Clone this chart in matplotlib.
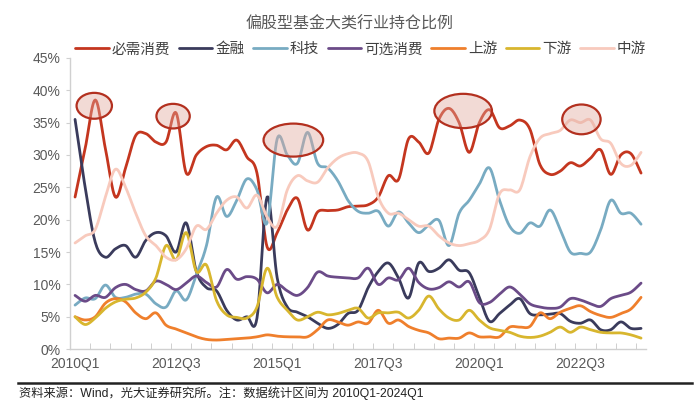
import numpy as np
import matplotlib
matplotlib.use("Agg")
import matplotlib.pyplot as plt
from matplotlib.patches import Ellipse

plt.rcParams['font.family'] = ['Liberation Sans', 'Noto Sans CJK SC', 'DejaVu Sans']

# 2010Q1 ... 2024Q1
quarters = [f"{y}Q{q}" for y in range(2010, 2025) for q in range(1, 5)][:57]

bixu = [23.5, 31, 38.5, 31, 23.5, 28, 33, 33.3, 32, 32, 36.5, 27.2, 30, 31.3, 31.5,
        30.8, 32.3, 29.7, 27.2, 15.8, 18, 21.5, 23.3, 18.4, 21.2, 21.4, 21.5, 22, 22.1,
        22.3, 23.5, 26.8, 26.2, 32.5, 32, 30.3, 35.5, 37.2, 35, 30.4, 35, 37, 34.2, 34.5,
        35.4, 34, 28.5, 27, 27.5, 28.8, 28.3, 29.5, 30.8, 27, 30, 30.2, 27.2]
jinrong = [35.5, 25, 16.5, 14.2, 15.5, 16, 14.2, 16.8, 18, 17.5, 15, 19.5, 12, 9.5, 9,
           6, 4.5, 5, 4.8, 23.5, 11, 6.5, 5.7, 5, 4, 3.2, 3.8, 5.5, 6, 9.5, 12, 13.3, 11,
           7.9, 13.3, 12, 12.5, 13.8, 12.2, 11.8, 8, 4.3, 5.5, 6.8, 7.8, 5.5, 5.3, 5.4,
           5.5, 4.3, 4, 4.5, 3, 3, 4.2, 3.2, 3.2]
keji = [6.8, 7.9, 7.8, 9.9, 8, 8, 8.5, 8.5, 7, 6.5, 9, 7.6, 11.5, 16, 23.5, 20.5, 23,
        26.3, 24.6, 19.5, 32.5, 30, 28.7, 33.5, 28.7, 28, 26, 23, 21.3, 21, 21.3, 19,
        21.2, 19.5, 18, 19.2, 19.9, 16, 21, 23, 25.5, 28, 23, 19, 17.9, 19.5, 19, 21.5,
        18.5, 15, 14.8, 15, 18.4, 23, 21, 21, 19.3]
kexuan = [8.3, 7.4, 8.3, 8, 9.5, 10, 9.2, 9, 10.5, 10, 9.2, 10.2, 11.3, 10.3, 9.6, 12.3,
          10.8, 11.2, 10.8, 8.7, 10, 9, 8.3, 9.5, 11.9, 11.3, 11.1, 11, 11, 12.5, 10, 11,
          10.7, 12.5, 10.3, 9.3, 9.5, 10.4, 9.6, 10.4, 7.2, 7.2, 8.5, 9.6, 8.5, 7, 6.5,
          6.3, 6.5, 7.8, 7.6, 7, 6.6, 7.8, 8.3, 8.8, 10.2]
shangyou = [5, 4.5, 5, 7.1, 7.8, 7.3, 5.6, 4.7, 5.6, 3.7, 3.1, 2.5, 1.9, 1.5, 1.4, 1.5,
            1.6, 1.7, 1.9, 2.2, 2, 1.9, 1.9, 1.9, 3, 4.5, 4.2, 3.7, 4.2, 4, 6, 4, 4.5,
            3.5, 2.9, 2.5, 1.6, 1.7, 1.7, 2.5, 1.9, 1.9, 1.9, 3.4, 3.4, 3.5, 5.6, 4.7,
            5.7, 6.3, 6.7, 5.8, 5.2, 4.9, 5.5, 6.2, 8]
xiayou = [5, 3.8, 4.8, 6.3, 7.3, 7.7, 7.9, 8.8, 11, 16, 13.8, 18, 12, 13, 7.5, 5.3, 4.9,
          4.8, 6.5, 12.5, 8, 6, 4.5, 5, 5.7, 5.3, 5.5, 6, 6.3, 4.8, 5.6, 5.6, 5.7, 4.8, 6,
          8.2, 6.2, 4.8, 4.5, 6, 4.5, 3.3, 2.9, 2.6, 2, 1.8, 2, 2.6, 3.4, 2.6, 3.4, 3,
          2.6, 2.5, 2.5, 2.2, 1.7]
zhongyou = [16.4, 17.5, 18.5, 23.5, 27.8, 25, 21, 17.5, 16, 14.2, 13.8, 15.5, 19, 18.5,
            21, 23, 23.5, 21.8, 23.8, 20.4, 19, 24.6, 26.8, 26, 25.8, 28, 29.5, 30.2,
            30.3, 29, 23.5, 21, 21, 20, 19, 19, 17.5, 16.4, 16, 16.3, 16.8, 18.5, 24,
            24.6, 24.6, 29.7, 32.6, 33.3, 33.8, 35.4, 35, 35.4, 32.5, 31.8, 28.7, 28.4,
            30.4]

names = ['必需消费', '金融', '科技', '可选消费', '上游', '下游', '中游']
series = [bixu, jinrong, keji, kexuan, shangyou, xiayou, zhongyou]
colors = ['#c4361f', '#3a3b5c', '#78abc2', '#6b4b88', '#ef7f2c', '#d8b62e', '#f8cabd']

# highlighted peaks: (quarter index, value, width, height)
circles = [(1.9, 37.6, 3.5, 4.0), (9.7, 36.0, 3.3, 3.8), (21.6, 32.3, 5.9, 5.1),
           (38.4, 36.8, 5.7, 5.3), (50.1, 35.5, 3.8, 4.6)]


def smooth(x, y, n=12):
    # catmull-rom curve through the points, like excel's smoothed line
    pts = np.column_stack([x, y]).astype(float)
    p = np.vstack([pts[0], pts, pts[-1]])
    t = np.linspace(0, 1, n, endpoint=False)[:, None]
    out = []
    for k in range(len(pts) - 1):
        p0, p1, p2, p3 = p[k], p[k + 1], p[k + 2], p[k + 3]
        seg = 0.5 * (2 * p1 + (p2 - p0) * t + (2 * p0 - 5 * p1 + 4 * p2 - p3) * t ** 2
                     + (3 * p1 - p0 - 3 * p2 + p3) * t ** 3)
        out.append(seg)
    out.append(pts[-1:])
    s = np.vstack(out)
    return s[:, 0], s[:, 1]


fig = plt.figure(figsize=(7, 4.05), dpi=100)
ax = fig.add_axes([0.1, 0.138, 0.823, 0.719])

x = np.arange(len(quarters))
for name, vals, c in zip(names, series, colors):
    sx, sy = smooth(x, vals)
    ax.plot(sx, sy, color=c, lw=2, label=name, solid_capstyle='round')

for cx, cy, w, h in circles:
    ax.add_patch(Ellipse((cx, cy), w, h, facecolor='#e2a89c', alpha=0.42,
                         edgecolor='none', zorder=5))
    ax.add_patch(Ellipse((cx, cy), w, h, facecolor='none', edgecolor='#b3301f',
                         lw=1.6, zorder=6))

ax.set_xlim(-0.5, 56.5)
ax.set_ylim(0, 45)
ax.set_yticks(np.arange(0, 46, 5))
ax.set_yticklabels([f"{v}%" for v in range(0, 46, 5)])
ax.set_xticks(x[::10])
ax.set_xticklabels([quarters[i] for i in x[::10]])
ax.set_xticks(np.arange(-0.5, 56, 2), minor=True)
ax.tick_params(axis='x', which='major', length=0, pad=6, labelsize=10, labelcolor='#595959')
ax.tick_params(axis='x', which='minor', length=4, direction='in', color='#c8c8c8')
ax.tick_params(axis='y', length=3, color='#d0d0d0', pad=4, labelsize=10, labelcolor='#595959')

for s in ['top', 'right']:
    ax.spines[s].set_visible(False)
for s in ['left', 'bottom']:
    ax.spines[s].set_color('#d0d0d0')
    ax.spines[s].set_linewidth(1)

fig.text(0.5, 0.94, '偏股型基金大类行业持仓比例', ha='center', va='center',
         fontsize=11.5, color='#595959')
ax.legend(loc='center', bbox_to_anchor=(0.515, 0.878), bbox_transform=fig.transFigure,
          ncol=7, frameon=False, fontsize=10.5, handlelength=2.3, handletextpad=0.2,
          columnspacing=0.6, labelcolor='#404040')

fig.add_artist(plt.Line2D([0.025, 0.988], [0.055, 0.055], color='#222222', lw=1.8))
fig.text(0.027, 0.028, '资料来源：Wind，光大证券研究所。注：数据统计区间为 2010Q1-2024Q1',
         ha='left', va='center', fontsize=8.8, color='#222222')

fig.savefig('out.png', dpi=100)
